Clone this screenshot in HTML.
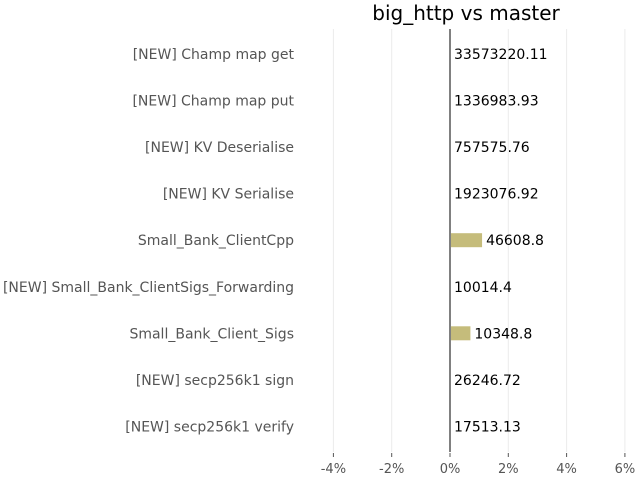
<!DOCTYPE html>
<html><head><meta charset="utf-8"><style>
html,body{margin:0;padding:0;background:#fff;}
svg{display:block;font-family:"DejaVu Sans","Liberation Sans",sans-serif;}
</style></head><body>
<svg id="chart" width="640" height="480">
<text x="466" y="20" font-size="20" text-anchor="middle" fill="#000">big_http vs master</text>
<g id="grid"></g><g id="bars"></g><g id="labels"></g><g id="axis"></g>
</svg>
<script>
const categories = ["[NEW] Champ map get","[NEW] Champ map put","[NEW] KV Deserialise","[NEW] KV Serialise","Small_Bank_ClientCpp","[NEW] Small_Bank_ClientSigs_Forwarding","Small_Bank_Client_Sigs","[NEW] secp256k1 sign","[NEW] secp256k1 verify"];
const changes = [0,0,0,0,1.1,0,0.7,0,0];
const valueLabels = ["33573220.11","1336983.93","757575.76","1923076.92","46608.8","10014.4","10348.8","26246.72","17513.13"];
const ticks = [-4,-2,0,2,4,6];
const tickLabels = ["-4%","-2%","0%","2%","4%","6%"];

const NS="http://www.w3.org/2000/svg";
const x = v => 450 + v*29.15;
const y = i => 54 + i*46.55;
function mk(tag, attrs, parent){const e=document.createElementNS(NS,tag);for(const k in attrs)e.setAttribute(k,attrs[k]);parent.appendChild(e);return e;}
const grid=document.getElementById('grid'), bars=document.getElementById('bars'), labels=document.getElementById('labels'), axis=document.getElementById('axis');
ticks.forEach((t,i)=>{
  const gl=mk('line',{x1:x(t),x2:x(t),y1:29,y2:452,stroke:'#ebebeb','stroke-width':1},grid);
  
  
  const tk=mk('line',{x1:x(t),x2:x(t),y1:453,y2:457,stroke:'#555','stroke-width':1},axis);
  
  
  const tl=mk('text',{x:x(t),y:473,'font-size':13,'text-anchor':'middle',fill:'#555'},axis);
  tl.textContent=tickLabels[i];
  
  
});
categories.forEach((c,i)=>{
  const v=changes[i];
  if(v!==0){
    const b=mk('rect',{x:Math.min(x(0),x(v)),y:y(i)-7,width:Math.abs(x(v)-x(0)),height:14,fill:'#c5bc7b'},bars);
    
    
  }
  const cl=mk('text',{x:294,y:y(i)+5,'font-size':14,'text-anchor':'end',fill:'#555'},labels);
  cl.textContent=c;
  
  
  const vl=mk('text',{x:Math.max(x(v),x(0))+4,y:y(i)+5,'font-size':14,fill:'#000'},labels);
  vl.textContent=valueLabels[i];
  
  
});
const z=mk('line',{x1:x(0),x2:x(0),y1:29,y2:452,stroke:'#808080','stroke-width':2},axis);


</script>
</body></html>
